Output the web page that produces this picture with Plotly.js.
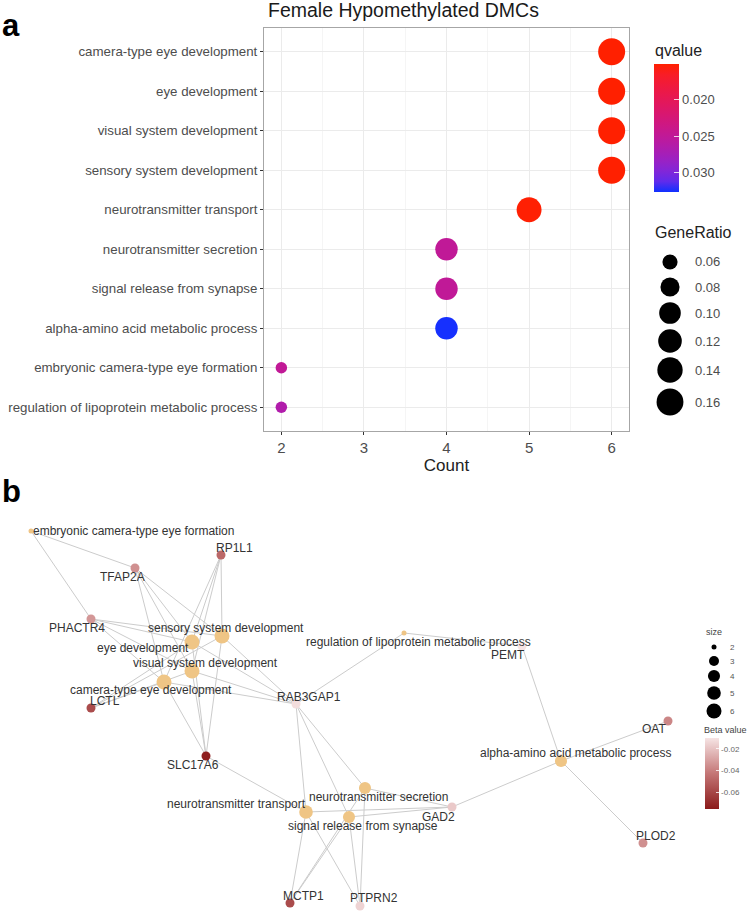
<!DOCTYPE html>
<html><head><meta charset="utf-8">
<script src="https://cdn.plot.ly/plotly-3.0.1.min.js"></script>
<style>body{margin:0;background:#fff}#chart{width:747px;height:912px}</style>
</head><body><div id="chart"></div>
<script>
// ---------- DATA: panel a ----------
const categories = [
  "camera-type eye development","eye development","visual system development",
  "sensory system development","neurotransmitter transport","neurotransmitter secretion",
  "signal release from synapse","alpha-amino acid metabolic process",
  "embryonic camera-type eye formation","regulation of lipoprotein metabolic process"];
const counts     = [6,6,6,6,5,4,4,4,2,2];
const geneRatio  = [0.162,0.162,0.162,0.162,0.135,0.108,0.108,0.108,0.054,0.054];
const qvalues    = [0.0151,0.0151,0.0151,0.0151,0.0152,0.0250,0.0250,0.0326,0.0249,0.0265];
const countTicks = [2,3,4,5,6];
const qTicks     = [0.020,0.025,0.030];
const ratioBreaks= [0.06,0.08,0.10,0.12,0.14,0.16];

// ---------- DATA: panel b (network) ----------
const genes    = ["TFAP2A","RP1L1","PHACTR4","LCTL","SLC17A6","RAB3GAP1","GAD2","MCTP1","PTPRN2","PEMT","OAT","PLOD2"];
const geneBeta = [-0.035,-0.048,-0.033,-0.058,-0.074,-0.012,-0.018,-0.058,-0.015,-0.010,-0.038,-0.035];
const geneSets = [
  ["TFAP2A","RP1L1","PHACTR4","LCTL","SLC17A6","RAB3GAP1"],
  ["TFAP2A","RP1L1","PHACTR4","LCTL","SLC17A6","RAB3GAP1"],
  ["TFAP2A","RP1L1","PHACTR4","LCTL","SLC17A6","RAB3GAP1"],
  ["TFAP2A","RP1L1","PHACTR4","LCTL","SLC17A6","RAB3GAP1"],
  ["SLC17A6","RAB3GAP1","GAD2","MCTP1","PTPRN2"],
  ["RAB3GAP1","GAD2","MCTP1","PTPRN2"],
  ["RAB3GAP1","GAD2","MCTP1","PTPRN2"],
  ["PEMT","OAT","GAD2","PLOD2"],
  ["TFAP2A","PHACTR4"],
  ["RAB3GAP1","PEMT"]];
const sizeBreaks = [2,3,4,5,6];
const betaTicks  = [-0.02,-0.04,-0.06];

// ---------- network layout coordinates (graph layout, page units) ----------
const catLayoutX = [164,192,192,222,306,365,349,561,31,404];
const catLayoutY = [682,642,671,636,812,788,817,761,531,633];
const catLabelDx = [-13,-49,13,4,-70,13,14,14,102,14];
const catLabelDy = [8,6,-8,-8,-8,9,9,-8,0,9];
const geneLayoutX = [135,221,91,91,206,296,452,290,360,522,668,643];
const geneLayoutY = [568,555,619,708,756,704,807,903,906,646,721,843];
const geneLabelDx = [-13,13,-14,14,-13,13,-14,13,14,-14,-14,13];
const geneLabelDy = [9,-7,9,-7,9,-7,10,-7,-8,9,8,-7];

// ---------- helpers ----------
const W = 747, H = 912;
const FONT = "Liberation Sans, Arial, Helvetica, sans-serif";
function hex2rgb(h){h=h.replace('#','');return [0,2,4].map(i=>parseInt(h.substr(i,2),16)/255);}
function lin(c){return c<=0.04045?c/12.92:Math.pow((c+0.055)/1.055,2.4);}
function gam(c){c=Math.max(0,Math.min(1,c));return c<=0.0031308?12.92*c:1.055*Math.pow(c,1/2.4)-0.055;}
function rgb2lab(rgb){
  const [r,g,b]=rgb.map(lin);
  let X=(0.4124*r+0.3576*g+0.1805*b)/0.95047, Y=(0.2126*r+0.7152*g+0.0722*b), Z=(0.0193*r+0.1192*g+0.9505*b)/1.08883;
  const f=t=>t>0.008856?Math.cbrt(t):7.787*t+16/116;
  const fx=f(X),fy=f(Y),fz=f(Z);
  return [116*fy-16,500*(fx-fy),200*(fy-fz)];
}
function lab2rgb(lab){
  const fy=(lab[0]+16)/116, fx=fy+lab[1]/500, fz=fy-lab[2]/200;
  const fi=t=>t*t*t>0.008856?t*t*t:(t-16/116)/7.787;
  const X=fi(fx)*0.95047, Y=fi(fy), Z=fi(fz)*1.08883;
  const r=3.2406*X-1.5372*Y-0.4986*Z, g=-0.9689*X+1.8758*Y+0.0415*Z, b=0.0557*X-0.2040*Y+1.0570*Z;
  return 'rgb('+[r,g,b].map(c=>Math.round(gam(c)*255)).join(',')+')';
}
function labScale(lowHex, highHex, n){
  const a=rgb2lab(hex2rgb(lowHex)), b=rgb2lab(hex2rgb(highHex)), out=[];
  for(let i=0;i<=n;i++){const t=i/n;out.push([t,lab2rgb([0,1,2].map(k=>a[k]+(b[k]-a[k])*t))]);}
  return out;
}
// ggplot-like area scale for dot size
const rMin = Math.min(...geneRatio), rMax = Math.max(...geneRatio);
const dotSize = g => 11.5 + 15.5*Math.sqrt(Math.max(0,(g-rMin)/(rMax-rMin)));
const cMin = 2, cMax = 6;
const nodeSize = c => 5 + 10*Math.sqrt((c-cMin)/(cMax-cMin));

// ---------- traces ----------
const traces = [];
traces.push({
  type:'scatter', mode:'markers', x:counts, y:categories, xaxis:'x', yaxis:'y',
  marker:{size:geneRatio.map(dotSize), color:qvalues.map(q=>-q), coloraxis:'coloraxis', line:{width:0}, opacity:1},
  hoverinfo:'skip', showlegend:false
});
// edges
const ex=[], ey=[];
geneSets.forEach((set,ci)=>{
  set.forEach(g=>{const gi=genes.indexOf(g);
    ex.push(catLayoutX[ci],geneLayoutX[gi],null); ey.push(catLayoutY[ci],geneLayoutY[gi],null);});
});
traces.push({type:'scatter',mode:'lines',x:ex,y:ey,xaxis:'x2',yaxis:'y2',
  line:{color:'#cccccc',width:1},hoverinfo:'skip',showlegend:false});
traces.push({type:'scatter',mode:'markers',x:catLayoutX,y:catLayoutY,xaxis:'x2',yaxis:'y2',
  marker:{size:counts.map(nodeSize),color:'#EFC585',opacity:1,line:{width:0}},hoverinfo:'skip',showlegend:false});
traces.push({type:'scatter',mode:'markers',x:geneLayoutX,y:geneLayoutY,xaxis:'x2',yaxis:'y2',
  marker:{size:9,color:geneBeta,coloraxis:'coloraxis2',opacity:1,line:{width:0}},hoverinfo:'skip',showlegend:false});
// GeneRatio legend keys
const grLegY = [262,287,313,341,370,402];
traces.push({type:'scatter',mode:'markers',x:ratioBreaks.map(()=>670),y:grLegY,xaxis:'x2',yaxis:'y2',
  marker:{size:ratioBreaks.map(dotSize),color:'rgb(0,0,0)',opacity:1,line:{width:0,color:'rgb(0,0,0)'}},hoverinfo:'skip',showlegend:false});
// size legend keys
const szLegY = [647,661,676,693,711];
traces.push({type:'scatter',mode:'markers',x:sizeBreaks.map(()=>714),y:szLegY,xaxis:'x2',yaxis:'y2',
  marker:{size:sizeBreaks.map(nodeSize),color:'rgb(0,0,0)',opacity:1,line:{width:0,color:'rgb(0,0,0)'}},hoverinfo:'skip',showlegend:false});

// ---------- annotations ----------
const ann = [];
const px = (x)=>x/W, py = (y)=>1-y/H;
ann.push({xref:'paper',yref:'paper',x:0,y:py(25),xanchor:'left',yanchor:'middle',text:'<b>a</b>',showarrow:false,font:{size:31,color:'#000',family:FONT}});
ann.push({xref:'paper',yref:'paper',x:0,y:py(491),xanchor:'left',yanchor:'middle',text:'<b>b</b>',showarrow:false,font:{size:31,color:'#000',family:FONT}});
ann.push({xref:'paper',yref:'paper',x:px(266),y:py(10),xanchor:'left',yanchor:'middle',text:'Female Hypomethylated DMCs',showarrow:false,font:{size:19.5,color:'#1a1a1a',family:FONT}});
ann.push({xref:'paper',yref:'paper',x:px(653),y:py(50),xanchor:'left',yanchor:'middle',text:'qvalue',showarrow:false,font:{size:16,color:'#222',family:FONT}});
ann.push({xref:'paper',yref:'paper',x:px(653),y:py(233),xanchor:'left',yanchor:'middle',text:'GeneRatio',showarrow:false,font:{size:16,color:'#222',family:FONT}});
ratioBreaks.forEach((r,i)=>ann.push({xref:'paper',yref:'paper',x:px(693),y:py(grLegY[i]),xanchor:'left',yanchor:'middle',
  text:r.toFixed(2),showarrow:false,font:{size:13,color:'#4d4d4d',family:FONT}}));
ann.push({xref:'paper',yref:'paper',x:px(704),y:py(632),xanchor:'left',yanchor:'middle',text:'size',showarrow:false,font:{size:9,color:'#444',family:FONT}});
sizeBreaks.forEach((s,i)=>ann.push({xref:'paper',yref:'paper',x:px(728),y:py(szLegY[i]),xanchor:'left',yanchor:'middle',
  text:String(s),showarrow:false,font:{size:8,color:'#555',family:FONT}}));
ann.push({xref:'paper',yref:'paper',x:px(702),y:py(730),xanchor:'left',yanchor:'middle',text:'Beta value',showarrow:false,font:{size:9,color:'#444',family:FONT}});
categories.forEach((c,i)=>ann.push({xref:'x2',yref:'y2',x:catLayoutX[i],y:catLayoutY[i],xshift:catLabelDx[i],yshift:-catLabelDy[i],
  xanchor:'center',yanchor:'middle',text:c,showarrow:false,font:{size:12,color:'#333',family:FONT}}));
genes.forEach((g,i)=>ann.push({xref:'x2',yref:'y2',x:geneLayoutX[i],y:geneLayoutY[i],xshift:geneLabelDx[i],yshift:-geneLabelDy[i],
  xanchor:'center',yanchor:'middle',text:g,showarrow:false,font:{size:12,color:'#333',family:FONT}}));

const layout = {
  width:W, height:H, margin:{l:0,r:0,t:0,b:0},
  paper_bgcolor:'#fff', plot_bgcolor:'rgba(0,0,0,0)',
  font:{family:FONT,color:'#4d4d4d'},
  showlegend:false,
  xaxis:{domain:[px(264),px(629)], range:[1.79,6.21], tickvals:countTicks, ticktext:countTicks.map(String),
    tickfont:{size:15,color:'#4d4d4d'}, ticks:'outside', ticklen:3, tickcolor:'#333',
    showgrid:true, gridcolor:'#ebebeb', gridwidth:1, zeroline:false,
    minor:{dtick:0.5, showgrid:true, gridcolor:'#f5f5f5', gridwidth:1},
    showline:true, mirror:true, linecolor:'#a6a6a6', linewidth:1,
    title:{text:'Count', font:{size:17,color:'#222'}, standoff:4}, anchor:'y', fixedrange:true},
  yaxis:{domain:[1-431/H, 1-28/H], type:'category', categoryarray:categories, range:[9.6,-0.6],
    tickfont:{size:13.3,color:'#4d4d4d'}, ticks:'outside', ticklen:3, tickcolor:'#333',
    showgrid:true, gridcolor:'#ebebeb', zeroline:false,
    showline:true, mirror:true, linecolor:'#a6a6a6', linewidth:1, anchor:'x', fixedrange:true},
  xaxis2:{domain:[0,1], range:[0,W], visible:false, anchor:'y2', fixedrange:true},
  yaxis2:{domain:[0,1], range:[H,0], visible:false, anchor:'x2', fixedrange:true},
  coloraxis:{cmin:-0.0327, cmax:-0.0151, colorscale:labScale('#1030FF','#FF2000',12),
    colorbar:{x:px(654), xanchor:'left', xpad:0, ypad:0, y:py(128), yanchor:'middle', len:128, lenmode:'pixels',
      thickness:25, outlinewidth:0, tickvals:qTicks.map(q=>-q), ticktext:qTicks.map(q=>q.toFixed(3)),
      ticks:'inside', ticklen:5, tickcolor:'rgba(255,255,255,0.8)', tickfont:{size:13,color:'#4d4d4d'}, ticklabelposition:'outside'}},
  coloraxis2:{cmin:-0.0758, cmax:-0.0098, colorscale:[[0,'#8B1A1A'],[0.5,'#C47676'],[1,'#F6E4E4']],
    colorbar:{x:px(705), xanchor:'left', xpad:0, ypad:0, y:py(773.5), yanchor:'middle', len:71, lenmode:'pixels',
      thickness:14, outlinewidth:0, tickvals:betaTicks, ticktext:betaTicks.map(b=>b.toFixed(2)),
      ticks:'inside', ticklen:3, tickcolor:'rgba(255,255,255,0.8)', tickfont:{size:8,color:'#666'}}},
  annotations:ann
};
Plotly.newPlot('chart', traces, layout, {displayModeBar:false, staticPlot:true});
</script></body></html>
